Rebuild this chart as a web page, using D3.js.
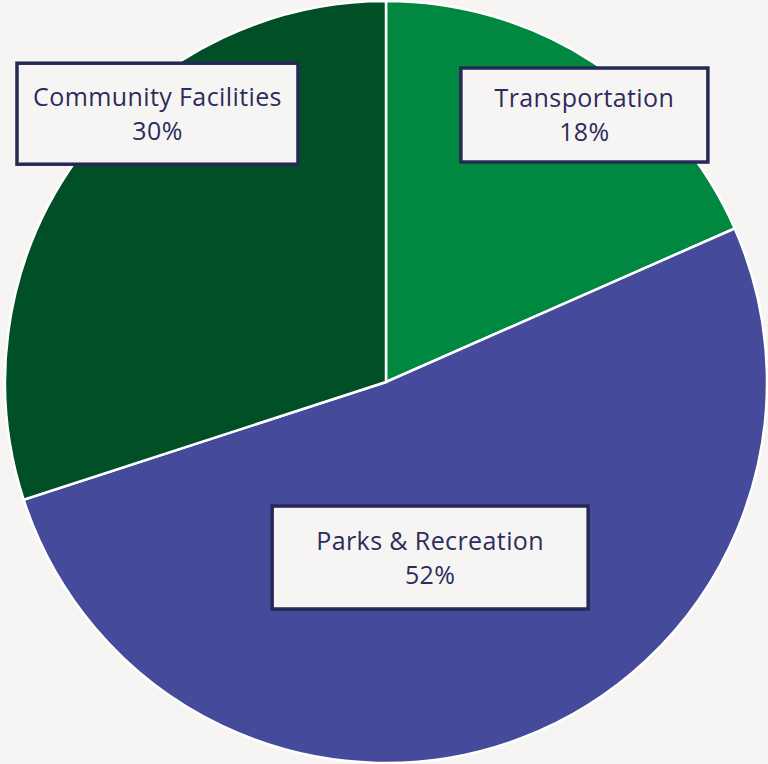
<!DOCTYPE html>
<html>
<head>
<meta charset="utf-8">
<script src="https://cdn.jsdelivr.net/npm/d3@7"></script>
<style>
  body { margin: 0; background: #f7f5f4; }
  svg { display: block; }
  .lbl { font-family: "Open Sans", sans-serif; fill: #2b2d5a; letter-spacing: 0.4px; }
</style>
</head>
<body>
<div id="chart"></div>
<script>
// spending share by category (labels show rounded percentages)
var categories = ['Transportation', 'Parks & Recreation', 'Community Facilities'];
var shares = [18.4, 51.6, 30.0];
var colors = ['#008841', '#454a9b', '#004f27'];

var width = 768, height = 764
  , cx = 386, cy = 382, radius = 381;

var svg = d3.select('#chart').append('svg')
    .attr('width', width)
    .attr('height', height);

var data = categories.map(function(c, i) {
  return { name: c, value: shares[i], color: colors[i] };
});

var pie = d3.pie().sort(null).value(function(d) { return d.value; });
var arc = d3.arc().innerRadius(0).outerRadius(radius);

var g = svg.append('g').attr('transform', 'translate(' + cx + ',' + cy + ')');

var arcs = pie(data);

g.selectAll('path')
  .data(arcs)
  .enter().append('path')
  .attr('d', arc)
  .attr('fill', function(d) { return d.data.color; })
  .attr('stroke', '#fff')
  .attr('stroke-width', 2.5);

// label boxes: polar offset from each slice's mid angle
var labelFrac = [0.873, 0.475, 0.925];
var angleShift = [0.061, 0.118, 0.237];
var boxW = [247, 316, 281];
var boxH = [94, 103, 101];

var labels = g.selectAll('.label')
  .data(arcs)
  .enter().append('g')
  .attr('class', 'label')
  .attr('transform', function(d, i) {
    var a = (d.startAngle + d.endAngle) / 2 + angleShift[i];
    var r = radius * labelFrac[i];
    return 'translate(' + (Math.sin(a) * r) + ',' + (-Math.cos(a) * r) + ')';
  });

labels.append('rect')
  .attr('x', function(d, i) { return -boxW[i] / 2; })
  .attr('y', function(d, i) { return -boxH[i] / 2; })
  .attr('width', function(d, i) { return boxW[i]; })
  .attr('height', function(d, i) { return boxH[i]; })
  .attr('fill', '#f7f5f4')
  .attr('stroke', '#262856')
  .attr('stroke-width', 3.5);

labels.append('text')
  .attr('class', 'lbl')
  .attr('text-anchor', 'middle')
  .attr('y', -8)
  .style('font-size', '25px')
  .text(function(d) { return d.data.name; });

labels.append('text')
  .attr('class', 'lbl')
  .attr('text-anchor', 'middle')
  .attr('y', 26)
  .style('font-size', '25px')
  .text(function(d) { return Math.round(d.data.value) + '%'; });
</script>
</body>
</html>
